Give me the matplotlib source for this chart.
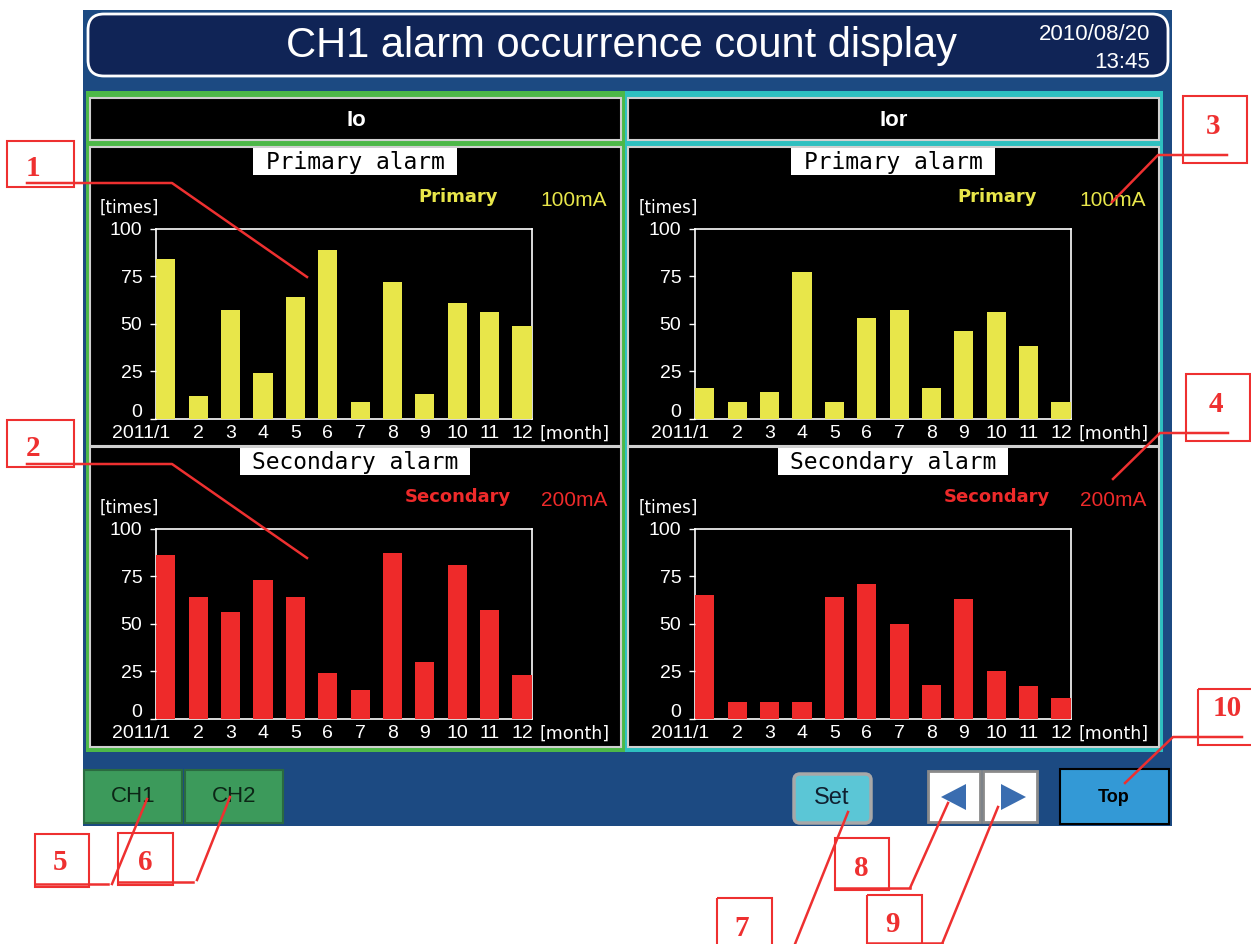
import matplotlib
matplotlib.use('Agg')
import matplotlib.pyplot as plt
from matplotlib.patches import Rectangle, FancyBboxPatch, Polygon
from matplotlib.transforms import ScaledTranslation

# monthly alarm counts
months = ['2011/1', '2', '3', '4', '5', '6', '7', '8', '9', '10', '11', '12']
io_primary = [84, 12, 57, 24, 64, 89, 9, 72, 13, 61, 56, 49]
ior_primary = [16, 9, 14, 77, 9, 53, 57, 16, 46, 56, 38, 9]
io_secondary = [86, 64, 56, 73, 64, 24, 15, 87, 30, 81, 57, 23]
ior_secondary = [65, 9, 9, 9, 64, 71, 50, 18, 63, 25, 17, 11]
yticks = [0, 25, 50, 75, 100]

W, H = 1251, 944
SANS = ['Liberation Sans', 'DejaVu Sans']
DJ = ['DejaVu Sans']
MONO = ['DejaVu Sans Mono']
SERIF = ['Liberation Serif', 'DejaVu Serif']

YEL = '#e8e64a'
RED = '#ee2a2a'
CALL = '#ee3030'

fig = plt.figure(figsize=(W / 100, H / 100), dpi=100)
fig.patch.set_facecolor('white')


def px_ax(x0, y0, x1, y1, z=1):
    return fig.add_axes([x0 / W, 1 - y1 / H, (x1 - x0) / W, (y1 - y0) / H], zorder=z)


def pix_layer(z):
    a = px_ax(0, 0, W, H, z)
    a.set_xlim(0, W)
    a.set_ylim(H, 0)
    a.axis('off')
    a.patch.set_visible(False)
    return a


def rect(ax, x0, y0, x1, y1, fc, ec='none', lw=0, z=1):
    ax.add_patch(Rectangle((x0, y0), x1 - x0, y1 - y0, facecolor=fc,
                           edgecolor=ec, linewidth=lw, zorder=z))


bg = pix_layer(0)
ov = pix_layer(10)

# screen + title bar
rect(bg, 83, 10, 1172, 826, '#1c4a82')
bg.add_patch(FancyBboxPatch((88, 14), 1080, 62, boxstyle='round,pad=0,rounding_size=16',
                            facecolor='#102456', edgecolor='white', linewidth=2, zorder=2))
bg.text(621, 46, 'CH1 alarm occurrence count display', color='white', fontsize=30,
        family=SANS, ha='center', va='center', zorder=3)
bg.text(1150, 34, '2010/08/20', color='white', fontsize=16, family=SANS,
        ha='right', va='center', zorder=3)
bg.text(1150, 62, '13:45', color='white', fontsize=16, family=SANS,
        ha='right', va='center', zorder=3)

# panels
rect(bg, 86, 91, 625, 752, '#4db848')
rect(bg, 625, 91, 1163, 752, '#2ec0c0')
for dx, name in [(0, 'Io'), (538, 'Ior')]:
    rect(bg, 90 + dx, 98, 621 + dx, 140, 'black', '#d0d0d0', 1.5, z=2)
    bg.text(356 + dx, 120, name, color='white', fontsize=16, weight='bold',
            family=SANS, ha='center', va='center', zorder=3)
    rect(bg, 90 + dx, 147, 621 + dx, 446, 'black', '#d0d0d0', 1.5, z=2)
    rect(bg, 90 + dx, 447, 621 + dx, 747, 'black', '#d0d0d0', 1.5, z=2)


def chart(dx, top, vals, color, title, tbox, tag, amp):
    y_top = top + 81.7
    y_bot = top + 271.7
    # title label
    rect(bg, tbox[0] + dx, top + 1, tbox[1] + dx, top + 28, 'white', z=3)
    bg.text((tbox[0] + tbox[1]) / 2 + dx, top + 15, title, color='black', fontsize=16.5,
            family=MONO, ha='center', va='center', zorder=4)
    bg.text(458 + dx, top + 50, tag, color=color, fontsize=13, weight='bold',
            family=DJ, ha='center', va='center', zorder=4)
    bg.text(574 + dx, top + 54, amp, color=color, fontsize=15, family=SANS,
            ha='center', va='center', zorder=4)
    bg.text(129 + dx, top + 61, '[times]', color='white', fontsize=12, family=DJ,
            ha='center', va='center', zorder=4)

    ax = px_ax(156.3 + dx, y_top, 531.6 + dx, y_bot, z=3)
    ax.patch.set_visible(False)
    ax.bar(range(len(vals)), vals, width=0.59, color=color, zorder=1)
    ax.set_xlim(-0.295, len(vals) - 1 + 0.295)
    ax.set_ylim(0, 100)
    for s in ax.spines.values():
        s.set_color('white')
        s.set_linewidth(1.2)
        s.set_zorder(0.5)
    ax.set_yticks(yticks)
    ax.set_yticklabels([str(v) for v in yticks], family=SANS, fontsize=14)
    ax.tick_params(axis='y', colors='white', length=4, width=1, pad=6)
    # the "0" sits a little above the baseline on the screen
    lab0 = ax.get_yticklabels()[0]
    lab0.set_transform(lab0.get_transform() + ScaledTranslation(0, 6 / 72, fig.dpi_scale_trans))
    ax.set_xticks([])
    tr = ax.get_xaxis_transform()
    for i, lab in enumerate(months):
        if i == 0:
            ax.text(i + 0.15, -0.08, lab, transform=tr, color='white', fontsize=14,
                    family=SANS, ha='right', va='center', clip_on=False)
        else:
            ax.text(i, -0.08, lab, transform=tr, color='white', fontsize=14,
                    family=SANS, ha='center', va='center', clip_on=False)
    ax.text(1.022, -0.08, '[month]', transform=ax.transAxes, color='white',
            fontsize=12.5, family=DJ, ha='left', va='center')
    return ax


chart(0, 147, io_primary, YEL, 'Primary alarm', (253, 457), 'Primary', '100mA')
chart(539, 147, ior_primary, YEL, 'Primary alarm', (252, 456), 'Primary', '100mA')
chart(0, 447, io_secondary, RED, 'Secondary alarm', (240, 470), 'Secondary', '200mA')
chart(539, 447, ior_secondary, RED, 'Secondary alarm', (239, 469), 'Secondary', '200mA')

# bottom buttons
for x0, lab in [(84, 'CH1'), (185, 'CH2')]:
    rect(bg, x0, 770, x0 + 98, 823, '#3c9a5b', '#2a6a40', 1.5, z=2)
    bg.text(x0 + 49, 797, lab, color='#0c2616', fontsize=16, family=SANS,
            ha='center', va='center', zorder=3)
bg.add_patch(FancyBboxPatch((794, 774), 77, 49, boxstyle='round,pad=0,rounding_size=6',
                            facecolor='#5bc6d6', edgecolor='#a8a8a8', linewidth=2.5, zorder=2))
bg.text(832, 798, 'Set', color='#102030', fontsize=17, family=SANS,
        ha='center', va='center', zorder=3)
rect(bg, 928, 771, 980, 822, 'white', '#8a8a8a', 2, z=2)
rect(bg, 983, 771, 1037, 822, 'white', '#8a8a8a', 2, z=2)
bg.add_patch(Polygon([(941, 797), (966, 784), (966, 810)], closed=True,
                     facecolor='#3a6db0', edgecolor='none', zorder=3))
bg.add_patch(Polygon([(1026, 797), (1001, 784), (1001, 810)], closed=True,
                     facecolor='#3a6db0', edgecolor='none', zorder=3))
rect(bg, 1060, 769, 1169, 824, '#3399d6', 'black', 1.5, z=2)
bg.text(1114, 797, 'Top', color='black', fontsize=13, weight='bold', family=SANS,
        ha='center', va='center', zorder=3)

# numbered callouts
boxes = [
    ('1', (7, 141, 74, 187), (33, 168), [(27, 183), (172, 183), (307, 277)]),
    ('2', (7, 420, 74, 467), (33, 449), [(27, 464), (172, 464), (307, 558)]),
    ('3', (1183, 96, 1247, 163), (1213, 126), [(1227, 155), (1158, 155), (1112, 202)]),
    ('4', (1186, 374, 1250, 441), (1216, 405), [(1228, 433), (1160, 433), (1113, 479)]),
    ('10', (1198, 689, 1262, 745), (1227, 708), [(1242, 737), (1173, 737), (1125, 783)]),
    ('5', (35, 834, 89, 887), (60, 863), [(35, 884), (108, 884)]),
    ('6', (118, 833, 173, 885), (145, 862), [(118, 882), (193, 882)]),
    ('8', (835, 838, 889, 890), (861, 868), [(835, 888), (910, 888)]),
    ('7', (717, 898, 772, 960), (742, 928), []),
    ('9', (867, 895, 922, 960), (892, 924), [(867, 943), (942, 943)]),
]
for num, (x0, y0, x1, y1), (tx, ty), pts in boxes:
    ov.add_patch(Rectangle((x0, y0), x1 - x0, y1 - y0, facecolor='none',
                           edgecolor=CALL, linewidth=1.5, clip_on=False))
    ov.text(tx, ty, num, color=CALL, fontsize=21, weight='bold', family=SERIF,
            ha='center', va='center')
    if pts:
        ov.plot([p[0] for p in pts], [p[1] for p in pts], color=CALL, lw=1.8)

leaders = [
    [(112, 884), (147, 799)],
    [(197, 880), (230, 797)],
    [(910, 888), (948, 803)],
    [(795, 944), (848, 812)],
    [(942, 944), (998, 807)],
]
for seg in leaders:
    ov.plot([p[0] for p in seg], [p[1] for p in seg], color=CALL, lw=1.8)

fig.savefig('out.png', dpi=100, facecolor='white')
